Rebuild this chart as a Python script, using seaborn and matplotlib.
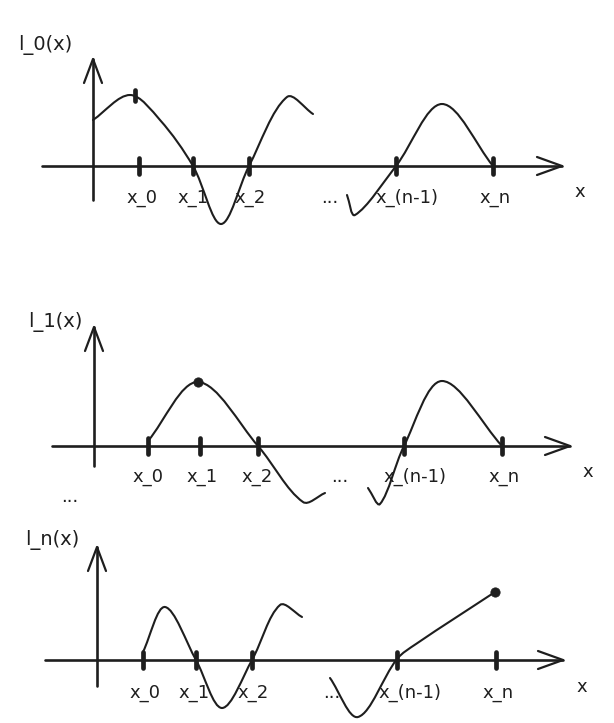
import matplotlib
matplotlib.use('Agg')

import numpy as np
import seaborn as sns
import matplotlib.pyplot as plt
from matplotlib.path import Path
from matplotlib.patches import PathPatch

# sketch of the Lagrange basis functions l_0, l_1, l_n (page pixel units)
INK = '#1e1e1e'

func_labels = ['l_0(x)', 'l_1(x)', 'l_n(x)']
func_label_pos = [(18, 45), (28, 322), (25, 540)]

axis_y = [166, 446, 660]          # horizontal axis height per panel
yaxis_x = [93, 94, 97]
yaxis_top = [59, 327, 547]
yaxis_bottom = [200, 466, 686]
xaxis_left = [42, 52, 45]
xaxis_tip = [562, 570, 563]

node_x = [[139, 193, 249, 396, 493],
          [148, 200, 258, 404, 502],
          [143, 196, 252, 397, 496]]

tick_text = ['x_0', 'x_1', 'x_2', '...', 'x_(n-1)', 'x_n']
tick_text_x = [[142, 193, 250, 330, 407, 495],
               [148, 202, 257, 340, 415, 504],
               [145, 194, 253, 332, 410, 498]]
tick_text_y = [198, 477, 693]
x_label_pos = [(580, 192), (588, 472), (582, 687)]

# curve pieces (x, y) per panel
curves = [
    [[(93, 120), (130, 95), (160, 120), (193, 166), (221, 224),
      (249, 166), (287, 97), (313, 114)],
     [(347, 195), (355, 215), (396, 166), (442, 104), (493, 166)]],
    [[(148, 441), (198, 382), (258, 446), (303, 502), (325, 493)],
     [(368, 488), (380, 504), (404, 446), (442, 381), (502, 446)]],
    [[(143, 652), (165, 607), (196, 660), (222, 708), (252, 660),
      (280, 605), (302, 617)],
     [(330, 678), (358, 717), (397, 659), (416, 644), (495, 592)]],
]

dot_x = [198, 495]
dot_y = [382, 592]
curve_mark = (135, 90, 101)   # short stroke on l_0 at x_0


def smooth(pts):
    # chord-length Hermite curve through the read points, drawn as beziers
    p = np.asarray(pts, float)
    t = np.concatenate([[0], np.cumsum(np.hypot(*np.diff(p, axis=0).T))])
    n = len(p)
    m = np.zeros_like(p)
    for i in range(n):
        a, b = max(i - 1, 0), min(i + 1, n - 1)
        m[i] = (p[b] - p[a]) / (t[b] - t[a])
    verts, codes = [p[0]], [Path.MOVETO]
    for i in range(n - 1):
        h = t[i + 1] - t[i]
        verts += [p[i] + m[i] * h / 3, p[i + 1] - m[i + 1] * h / 3, p[i + 1]]
        codes += [Path.CURVE4] * 3
    return Path(verts, codes)


sns.set_theme(style='white')
plt.rcParams['font.family'] = ['DejaVu Sans']

fig = plt.figure(figsize=(6.14, 7.23), dpi=100)
ax = fig.add_axes([0, 0, 1, 1])
ax.set_xlim(0, 614)
ax.set_ylim(723, 0)
ax.axis('off')

for k in range(3):
    ay = axis_y[k]
    # axes
    ax.plot([xaxis_left[k], xaxis_tip[k]], [ay, ay], color=INK, lw=1.9,
            solid_capstyle='round')
    ax.plot([xaxis_tip[k] - 25, xaxis_tip[k], xaxis_tip[k] - 25],
            [ay - 9, ay, ay + 9], color=INK, lw=1.6, solid_capstyle='round',
            solid_joinstyle='round')
    vx = yaxis_x[k]
    ax.plot([vx, vx], [yaxis_bottom[k], yaxis_top[k]], color=INK, lw=1.9,
            solid_capstyle='round')
    ax.plot([vx - 9, vx, vx + 9], [yaxis_top[k] + 24, yaxis_top[k],
            yaxis_top[k] + 24], color=INK, lw=1.6, solid_capstyle='round',
            solid_joinstyle='round')
    # node ticks
    for nx in node_x[k]:
        ax.plot([nx, nx], [ay - 8, ay + 8], color=INK, lw=3.4,
                solid_capstyle='round')
    # curves
    for c in curves[k]:
        ax.add_patch(PathPatch(smooth(c), fill=False, edgecolor=INK, lw=1.5,
                               capstyle='round'))
    # texts
    for t, tx in zip(tick_text, tick_text_x[k]):
        ax.text(tx, tick_text_y[k], t, ha='center', va='center',
                fontsize=13, color=INK)
    ax.text(*x_label_pos[k], 'x', ha='center', va='center', fontsize=13,
            color=INK)
    ax.text(*func_label_pos[k], func_labels[k], ha='left', va='center',
            fontsize=14, color=INK)

ax.plot([curve_mark[0], curve_mark[0]], [curve_mark[1], curve_mark[2]],
        color=INK, lw=3.4, solid_capstyle='round')
sns.scatterplot(x=dot_x, y=dot_y, ax=ax, color=INK, s=45, edgecolor=INK,
                zorder=5)
ax.text(70, 497, '...', ha='center', va='center', fontsize=13, color=INK)

fig.savefig('out.png', dpi=100, facecolor='white')
